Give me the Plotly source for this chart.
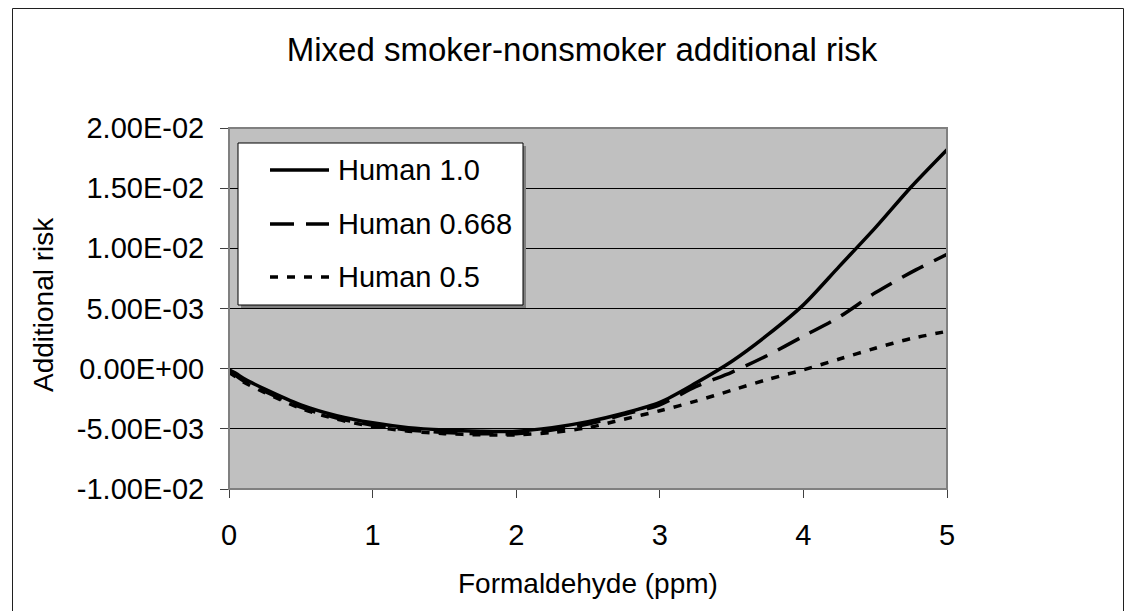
import plotly.graph_objects as go

# ---- data ----
x_ppm = [0, 0.05, 0.1, 0.25, 0.5, 0.75, 1.0, 1.25, 1.5, 1.75, 2.0, 2.25, 2.5,
         2.75, 3.0, 3.25, 3.5, 3.75, 4.0, 4.25, 4.5, 4.75, 5.0]
human_1_0 = [-0.0001, -0.0004, -0.0008, -0.0017, -0.0030, -0.0039, -0.0045,
             -0.0049, -0.0051, -0.0052, -0.0052, -0.0049, -0.0044, -0.0037,
             -0.0028, -0.0012, 0.0006, 0.0028, 0.0053, 0.0085, 0.0117, 0.0151,
             0.0182]
human_0_668 = [-0.0002, -0.0006, -0.0010, -0.0019, -0.0032, -0.0041, -0.0047,
               -0.0051, -0.0053, -0.0054, -0.0054, -0.0051, -0.0046, -0.0038,
               -0.0030, -0.0015, -0.0003, 0.0011, 0.0027, 0.0043, 0.0063,
               0.0080, 0.0095]
human_0_5 = [-0.0003, -0.0007, -0.0011, -0.0020, -0.0033, -0.0042, -0.0048,
             -0.0052, -0.0054, -0.0055, -0.0055, -0.0053, -0.0049, -0.0042,
             -0.0035, -0.0027, -0.0018, -0.0009, -0.0001, 0.0008, 0.0017,
             0.0025, 0.0031]
series_names = ["Human 1.0", "Human 0.668", "Human 0.5"]

y_tickvals = [-0.01, -0.005, 0.0, 0.005, 0.01, 0.015, 0.02]
y_ticktext = ["-1.00E-02", "-5.00E-03", "0.00E+00", "5.00E-03",
              "1.00E-02", "1.50E-02", "2.00E-02"]
x_tickvals = [0, 1, 2, 3, 4, 5]

title_text = "Mixed smoker-nonsmoker additional risk"
x_title = "Formaldehyde (ppm)"
y_title = "Additional risk"

FONT = "Liberation Sans, Arial, sans-serif"

# ---- layout geometry (figure pixels; page adds an 8px body margin) ----
W, H = 1127, 603
L, R, T, B = 221, 939, 120, 481
pw, ph = R - L, B - T


def px(xp):
    return (xp - L) / pw


def py(yp):
    return (B - yp) / ph


styles = [dict(color="black", width=3.5),
          dict(color="black", width=3.5, dash="24px,12px"),
          dict(color="black", width=3.5, dash="8px,9px")]

fig = go.Figure()
for name, ys, st in zip(series_names, [human_1_0, human_0_668, human_0_5], styles):
    fig.add_trace(go.Scatter(x=x_ppm, y=ys, mode="lines", name=name,
                             line=dict(st, shape="spline", smoothing=0.8),
                             showlegend=False, cliponaxis=False))

fig.update_layout(
    width=W, height=H,
    margin=dict(l=L, r=W - R, t=T, b=H - B, autoexpand=False),
    paper_bgcolor="white",
    plot_bgcolor="#C0C0C0",
    font=dict(family=FONT, size=29, color="black"),
    showlegend=False,
    title=dict(text=title_text, x=574 / W, xanchor="center", xref="container",
               y=1 - 41 / H, yanchor="middle", yref="container",
               font=dict(size=33, family=FONT)),
)

fig.update_xaxes(range=[0, 5], tickvals=x_tickvals, ticks="outside", ticklen=8,
                 tickcolor="#404040", showgrid=False, zeroline=False,
                 showline=True, linecolor="#404040", linewidth=1,
                 tickfont=dict(size=29), ticklabelstandoff=12)
fig.update_yaxes(range=[-0.01, 0.02], tickvals=y_tickvals, ticktext=y_ticktext,
                 ticks="outside", ticklen=8, tickcolor="#404040",
                 showgrid=True, gridcolor="black", gridwidth=1,
                 zeroline=False, showline=True, linecolor="#404040",
                 linewidth=1, tickfont=dict(size=29), ticklabelstandoff=10)

# axis titles
fig.add_annotation(text=x_title, x=0.5, y=py(575), xref="paper", yref="paper",
                   showarrow=False, xanchor="center", yanchor="middle",
                   font=dict(size=28, family=FONT))
fig.add_annotation(text=y_title, x=px(35), y=py(297), xref="paper", yref="paper",
                   showarrow=False, xanchor="center", yanchor="middle",
                   textangle=-90, font=dict(size=28, family=FONT))

# plot-area border (gray) and outer chart border
fig.add_shape(type="rect", xref="paper", yref="paper", x0=0, x1=1, y0=0, y1=1,
              line=dict(color="#808080", width=2), layer="above")
fig.add_shape(type="rect", xref="paper", yref="paper",
              x0=px(4.5), x1=px(1115.5), y0=py(620), y1=py(0.5),
              line=dict(color="#202020", width=1), layer="below")

# legend box (drawn by hand so the key lines are as long as in the reference)
lg_x0, lg_x1, lg_y0, lg_y1 = 230, 515, 135, 297
fig.add_shape(type="rect", xref="paper", yref="paper",
              x0=px(lg_x0 + 3), x1=px(lg_x1 + 3), y0=py(lg_y1 + 3), y1=py(lg_y0 + 3),
              fillcolor="#808080", line=dict(width=0), layer="above")
fig.add_shape(type="rect", xref="paper", yref="paper",
              x0=px(lg_x0), x1=px(lg_x1), y0=py(lg_y1), y1=py(lg_y0),
              fillcolor="white", line=dict(color="black", width=1), layer="above")
key_rows = [162, 216, 269]
for name, st, yr in zip(series_names, styles, key_rows):
    fig.add_shape(type="line", xref="paper", yref="paper",
                  x0=px(262), x1=px(321), y0=py(yr), y1=py(yr),
                  line=st, layer="above")
    fig.add_annotation(text=name, x=px(328), y=py(yr), xref="paper", yref="paper",
                       showarrow=False, xanchor="left", yanchor="middle",
                       font=dict(size=29, family=FONT))

fig.write_html("out.html")
